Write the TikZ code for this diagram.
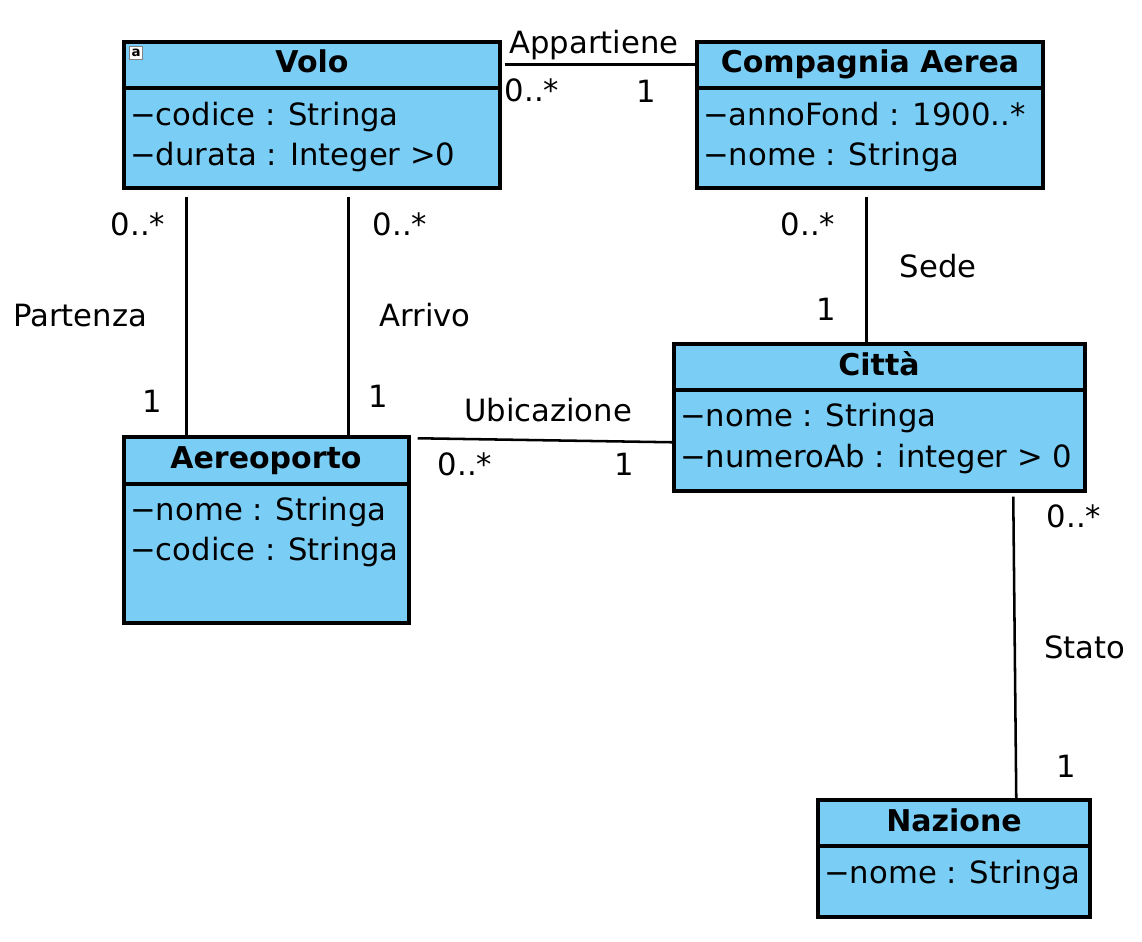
\documentclass[tikz,border=0pt]{standalone}
\usepackage{fontspec}
\setmainfont{DejaVu Sans}
\usetikzlibrary{fit,calc}
\definecolor{boxblue}{RGB}{122,206,245}
\tikzset{
  classbox/.style={draw=black, line width=2.6pt, fill=boxblue, inner sep=0pt},
  divider/.style={line width=2.6pt},
  title/.style={font=\fontsize{22.5}{26}\selectfont\bfseries, inner sep=0pt, anchor=base},
  attr/.style={font=\fontsize{23}{26}\selectfont, anchor=base west, inner sep=0pt},
  lbl/.style={font=\fontsize{23}{26}\selectfont, inner sep=0pt, anchor=base},
  assoc/.style={line width=1.9pt},
}
\begin{document}
\begin{tikzpicture}[x=0.75pt,y=-0.75pt]
\useasboundingbox[fill=white] (0,0) rectangle (1142,942);
% Volo
\node[classbox, fit={(124,42)(500,188)}] (volo) {};
\draw[divider] (124,88) -- (500,88);
\node[title] (voloT) at (312,73) {Volo};
\node[attr] (volo1) at (130,125) {−codice : Stringa};
\node[attr] (volo2) at (130,165) {−durata : Integer >0};
\node[draw=gray, fill=white, inner sep=0pt, font=\fontsize{10}{10}\selectfont\bfseries, minimum width=10pt, minimum height=10pt] (icon) at (136,53) {a};
% Compagnia Aerea
\node[classbox, fit={(697,42)(1043,188)}] (comp) {};
\draw[divider] (697,88) -- (1043,88);
\node[title] (compT) at (870,73) {Compagnia Aerea};
\node[attr] (comp1) at (703,125) {−annoFond : 1900..*};
\node[attr] (comp2) at (703,165) {−nome : Stringa};
% Aereoporto
\node[classbox, fit={(124,437)(409,623)}] (aero) {};
\draw[divider] (124,484) -- (409,484);
\node[title] (aeroT) at (266,468) {Aereoporto};
\node[attr] (aero1) at (130,520) {−nome : Stringa};
\node[attr] (aero2) at (130,560) {−codice : Stringa};
% Citta
\node[classbox, fit={(674,344)(1085,491)}] (citta) {};
\draw[divider] (674,390) -- (1085,390);
\node[title] (cittaT) at (879,375) {Città};
\node[attr] (citta1) at (680,426) {−nome : Stringa};
\node[attr] (citta2) at (680,467) {−numeroAb : integer > 0};
% Nazione
\node[classbox, fit={(818,800)(1090,917)}] (naz) {};
\draw[divider] (818,846) -- (1090,846);
\node[title] (nazT) at (954,831) {Nazione};
\node[attr] (naz1) at (824,883) {−nome : Stringa};
% Associations
\draw[assoc] ($(volo.north east)+(3,24)$) -- ($(comp.north west)+(0,24)$);
\node[lbl] (appL) at (594,54) {Appartiene};
\node[lbl] (appM1) at (532,101) {0..*};
\node[lbl] (appM2) at (646,103) {1};

\draw[assoc] ($(volo.south west)+(64,7)$) -- ($(aero.north west)+(64,0)$);
\node[lbl] (parM1) at (138,235) {0..*};
\node[lbl] (parL) at (80,326) {Partenza};
\node[lbl] (parM2) at (152,412) {1};

\draw[assoc] ($(volo.south west)+(226,7)$) -- ($(aero.north west)+(226,0)$);
\node[lbl] (arrM1) at (400,235) {0..*};
\node[lbl] (arrL) at (425,326) {Arrivo};
\node[lbl] (arrM2) at (378,407) {1};

\draw[assoc] ($(comp.south west)+(171,7)$) -- ($(citta.north west)+(194,0)$);
\node[lbl] (sedM1) at (808,235) {0..*};
\node[lbl] (sedL) at (938,277) {Sede};
\node[lbl] (sedM2) at (826,320) {1};

\draw[assoc] ($(aero.north east)+(7,3)$) -- ($(citta.north west)+(0,100)$);
\node[lbl] (ubiL) at (548,421) {Ubicazione};
\node[lbl] (ubiM1) at (465,475) {0..*};
\node[lbl] (ubiM2) at (624,475) {1};

\draw[assoc] ($(citta.south west)+(341,4)$) -- ($(naz.north west)+(200,0)$);
\node[lbl] (staM1) at (1074,527) {0..*};
\node[lbl] (staL) at (1085,658) {Stato};
\node[lbl] (staM2) at (1066,777) {1};
\end{tikzpicture}
\end{document}
